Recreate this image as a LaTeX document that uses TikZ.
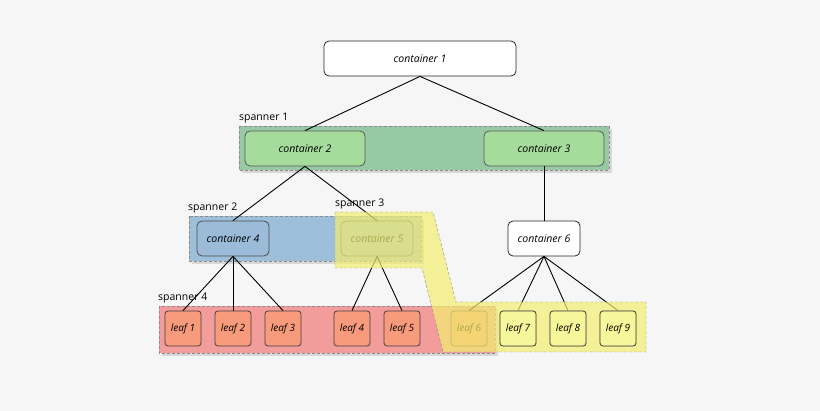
\documentclass[tikz,border=0pt]{standalone}
\usepackage{fontspec}
\setmainfont{Open Sans}
\usetikzlibrary{shadows}
\definecolor{bg}{HTML}{F6F6F6}
\definecolor{spgreen}{HTML}{97C9A4}
\definecolor{spblue}{HTML}{9EBFDA}
\definecolor{spred}{HTML}{F39C9C}
\definecolor{spyellow}{HTML}{F3EE70}
\definecolor{ndgreen}{HTML}{A5DB9B}
\definecolor{ndblue}{HTML}{9BBBD8}
\definecolor{ndred}{HTML}{F89A7C}
\definecolor{ndyellow}{HTML}{F6F69A}
\tikzset{
  box/.style={draw=black!85, line width=0.8pt, rounded corners=5pt, minimum height=35pt,
    font=\itshape\fontsize{10.5}{12}\selectfont, inner sep=0pt},
  cont/.style={box, minimum width=120pt},
  small/.style={box, minimum width=72pt},
  leaf/.style={box, minimum width=36pt, rounded corners=3pt, draw=black!75, fill=ndred,
    font=\itshape\fontsize{10}{12}\selectfont},
  span/.style={draw=black!45, densely dashed, drop shadow={opacity=0.25,shadow xshift=3pt,shadow yshift=-3pt}},
  splabel/.style={anchor=south west, inner sep=1pt, font=\fontsize{10.5}{12}\selectfont},
  edge/.style={draw=black, line width=0.9pt}
}
\begin{document}
\begin{tikzpicture}[x=1pt,y=-1pt]
\useasboundingbox[fill=bg] (0,0) rectangle (820,411);

% spanners below
\filldraw[span, fill=spgreen] (239,126) rectangle (609,170);
\filldraw[span, fill=spblue] (189,216) rectangle (421,261);
\filldraw[span, fill=spred] (159,306) rectangle (495,353);
\node[splabel] (s1) at (238,124) {spanner 1};
\node[splabel] (s2) at (187,214) {spanner 2};
\node[splabel] (s3) at (334,210) {spanner 3};
\node[splabel] (s4) at (157,304) {spanner 4};

% containers
\node[cont, fill=white, minimum width=192pt] (c1) at (420,58.5) {container 1};
\node[cont, fill=ndgreen, draw=black!65] (c2) at (305,148.5) {container 2};
\node[cont, fill=ndgreen, draw=black!65] (c3) at (544,148.5) {container 3};
\node[small, fill=ndblue, draw=black!70] (c4) at (233,238.5) {container 4};
\node[small, fill=ndblue, draw=black!70] (c5) at (377,238.5) {container 5};
\node[small, fill=white] (c6) at (544,238.5) {container 6};

% leaves
\foreach \n/\x in {1/183,2/233,3/283,4/352,5/402,6/469,7/518,8/568,9/618}
  \node[leaf] (l\n) at (\x,328.5) {leaf \n};

% edges
\draw[edge] (c1.south) -- (c2.north);
\draw[edge] (c1.south) -- (c3.north);
\draw[edge] (c2.south) -- (c4.north);
\draw[edge] (c2.south) -- (c5.north);
\draw[edge] (c3.south) -- (c6.north);
\foreach \n in {1,2,3} \draw[edge] (c4.south) -- (l\n.north);
\foreach \n in {4,5} \draw[edge] (c5.south) -- (l\n.north);
\foreach \n in {6,7,8,9} \draw[edge] (c6.south) -- (l\n.north);

% spanner 3 on top
\filldraw[draw=black!45, densely dashed, fill=spyellow, fill opacity=0.7]
  (335,212) -- (433,212) -- (456,302) -- (646,302) -- (646,352)
  -- (443,352) -- (422,268) -- (335,268) -- cycle;
\foreach \n in {7,8,9}
  \node[leaf, fill=ndyellow] at (l\n) {leaf \n};
\end{tikzpicture}
\end{document}
